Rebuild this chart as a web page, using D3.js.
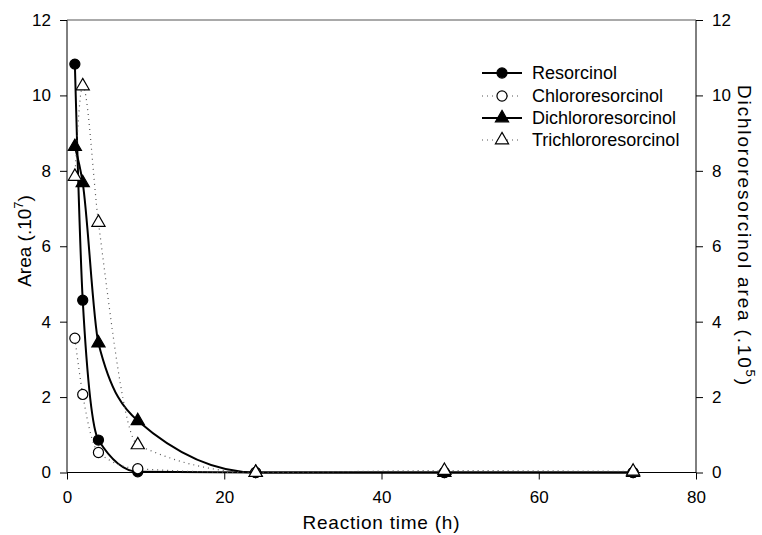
<!DOCTYPE html>
<html><head><meta charset="utf-8">
<script src="https://cdn.jsdelivr.net/npm/d3@7"></script>
<style>
body{margin:0;background:#fff;}
text{font-family:"Liberation Sans",Arial,sans-serif;fill:#000;}
</style></head>
<body>
<svg id="c" width="762" height="535"></svg>
<script>
const times = [1, 2, 4, 9, 24, 48, 72];
const resorcinol = [10.83, 4.57, 0.86, 0.02, 0, 0, 0];
const chlororesorcinol = [3.56, 2.07, 0.53, 0.1, 0, 0, 0];
const dichlororesorcinol = [8.64, 7.68, 3.43, 1.37, 0, 0, 0];
const trichlororesorcinol = [7.85, 10.25, 6.63, 0.73, 0.0, 0.05, 0.03];
const xTicks = [0, 20, 40, 60, 80];
const yTicks = [0, 2, 4, 6, 8, 10, 12];
const seriesNames = ["Resorcinol", "Chlororesorcinol", "Dichlororesorcinol", "Trichlororesorcinol"];

const svg = d3.select("#c");
const L = 67, R = 696, T = 20, B = 472.5;
const x = d3.scaleLinear().domain([0, 80]).range([L, R]);
const y = d3.scaleLinear().domain([0, 12]).range([B, T]);
const y2 = d3.scaleLinear().domain([0, 12]).range([B, T]);

// axes
const ax = svg.append("g").attr("transform", `translate(0,${B})`)
  .call(d3.axisBottom(x).tickValues(xTicks).tickSize(7).tickPadding(11));
const ayl = svg.append("g").attr("transform", `translate(${L},0)`)
  .call(d3.axisLeft(y).tickValues(yTicks).tickSize(7).tickPadding(9));
const ayr = svg.append("g").attr("transform", `translate(${R},0)`)
  .call(d3.axisRight(y2).tickValues(yTicks).tickSize(7).tickPadding(9));
[ax, ayl, ayr].forEach(g => {
  g.select(".domain").remove();
  g.selectAll("line").attr("stroke", "#000").attr("stroke-width", 1);
  g.selectAll("text").style("font-size", "17px").attr("fill", "#000");
});
// frame
svg.append("line").attr("x1", L).attr("x2", R).attr("y1", B).attr("y2", B).attr("stroke", "#000");
svg.append("line").attr("x1", L).attr("x2", L).attr("y1", T).attr("y2", B).attr("stroke", "#000");
svg.append("line").attr("x1", R).attr("x2", R).attr("y1", T).attr("y2", B).attr("stroke", "#000");
svg.append("line").attr("x1", L).attr("x2", R).attr("y1", T).attr("y2", T).attr("stroke", "#555");

// labels
svg.append("text").attr("x", 381).attr("y", 529).attr("text-anchor", "middle")
  .style("font-size", "19px").attr("textLength", 157).attr("lengthAdjust", "spacing")
  .text("Reaction time (h)");
const yl = svg.append("text").attr("transform", "translate(31,241) rotate(-90)")
  .attr("text-anchor", "middle").style("font-size", "19px");
yl.append("tspan").text("Area (.10");
yl.append("tspan").attr("dy", -8).style("font-size", "13px").text("7");
yl.append("tspan").attr("dy", 8).text(")");
const yr = svg.append("text").attr("transform", "translate(738,235) rotate(90)")
  .attr("text-anchor", "middle").style("font-size", "19px")
  .attr("textLength", 300).attr("lengthAdjust", "spacing");
yr.append("tspan").text("Dichlororesorcinol area (.10");
yr.append("tspan").attr("dy", -8).style("font-size", "13px").text("5");
yr.append("tspan").attr("dy", 8).text(")");

const line = (sc) => d3.line().x((d, i) => x(times[i])).y(d => sc(d)).curve(d3.curveMonotoneX);

const styles = [
  {data: resorcinol, sc: y, solid: true, sym: d3.symbolCircle, fill: "#000", size: 80},
  {data: chlororesorcinol, sc: y, solid: false, sym: d3.symbolCircle, fill: "#fff", size: 80},
  {data: dichlororesorcinol, sc: y2, solid: true, sym: d3.symbolTriangle, fill: "#000", size: 75},
  {data: trichlororesorcinol, sc: y, solid: false, sym: d3.symbolTriangle, fill: "#fff", size: 75}
];

styles.forEach(s => {
  svg.append("path").datum(s.data).attr("d", line(s.sc)).attr("fill", "none")
    .attr("stroke", s.solid ? "#000" : "#555")
    .attr("stroke-width", s.solid ? 2 : 1.2)
    .attr("stroke-dasharray", s.solid ? null : "1,4");
});
styles.forEach(s => {
  svg.selectAll(null).data(s.data).enter().append("path")
    .attr("d", d3.symbol().type(s.sym).size(s.size))
    .attr("transform", (d, i) => `translate(${x(times[i])},${s.sc(d)})`)
    .attr("fill", s.fill).attr("stroke", "#000").attr("stroke-width", 1.2);
});

// legend
const lg = svg.append("g");
const ly = [73, 96, 118, 140];
styles.forEach((s, i) => {
  lg.append("line").attr("x1", 482).attr("x2", 522).attr("y1", ly[i]).attr("y2", ly[i])
    .attr("stroke", s.solid ? "#000" : "#555").attr("stroke-width", s.solid ? 2 : 1.2)
    .attr("stroke-dasharray", s.solid ? null : "1,4");
  lg.append("path").attr("d", d3.symbol().type(s.sym).size(s.size))
    .attr("transform", `translate(502,${ly[i]})`)
    .attr("fill", s.fill).attr("stroke", "#000").attr("stroke-width", 1.2);
  lg.append("text").attr("x", 532).attr("y", ly[i] + 6).style("font-size", "18px").text(seriesNames[i]);
});
</script>
</body></html>
